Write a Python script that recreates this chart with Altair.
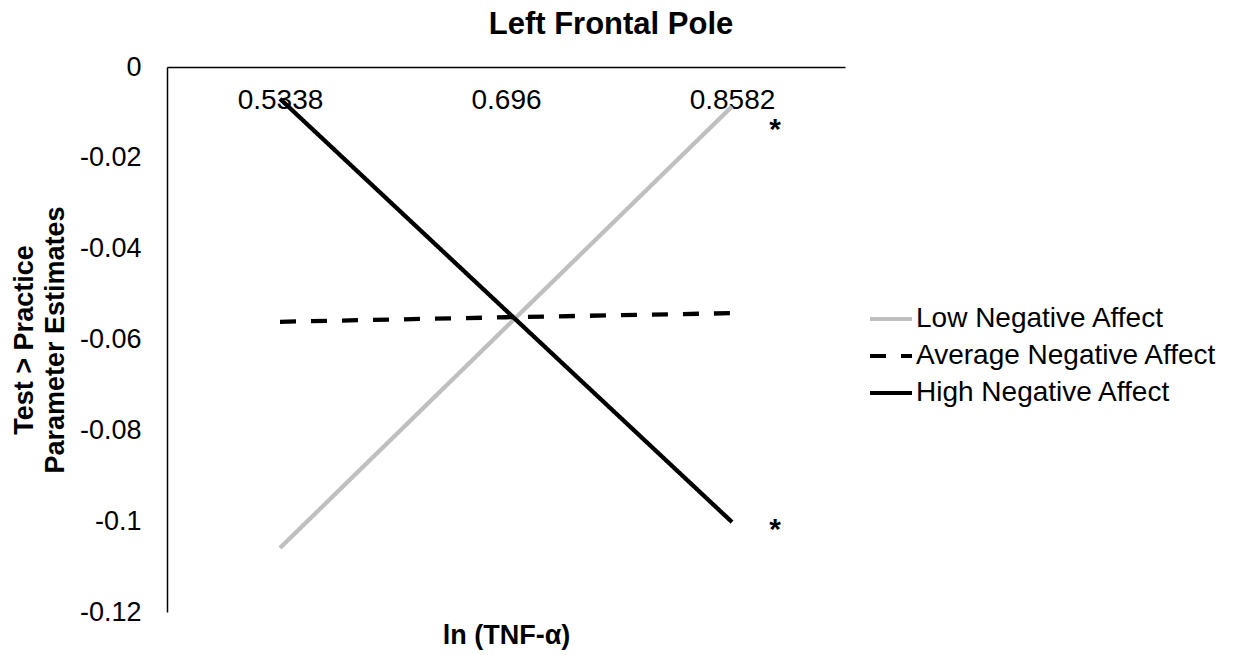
import altair as alt
import pandas as pd

# Category labels on the x axis: ln(TNF-alpha) at -1 SD, mean, +1 SD
tnf_levels = ["0.5338", "0.696", "0.8582"]

# Simple-slope estimates for each level of negative affect
series_names = ["Low Negative Affect", "Average Negative Affect", "High Negative Affect"]
low_na = [-0.1059, -0.0573, -0.0087]
avg_na = [-0.0561, -0.0551, -0.0542]
high_na = [-0.0070, -0.0536, -0.1002]

# Significance markers next to the slopes that differ from zero
star_level = ["0.8582", "0.8582"]
star_y = [-0.0128, -0.1008]
star_text = ["*", "*"]

y_ticks = [0, -0.02, -0.04, -0.06, -0.08, -0.1, -0.12]

FONT = "Liberation Sans"

rows = []
for name, vals in zip(series_names, [low_na, avg_na, high_na]):
    for lvl, v in zip(tnf_levels, vals):
        rows.append({"tnf": lvl, "estimate": v, "series": name})
lines_df = pd.DataFrame(rows)

stars_df = pd.DataFrame({"tnf": star_level, "estimate": star_y, "mark": star_text})

x_enc = alt.X(
    "tnf:O",
    sort=tnf_levels,
    scale=alt.Scale(type="point", padding=0.5),
    axis=alt.Axis(
        orient="bottom",
        offset=-545,
        labelAngle=0,
        labelFontSize=28,
        labelFont=FONT,
        labelColor="black",
        labelPadding=19,
        labelBaseline="top",
        ticks=False,
        tickSize=0,
        domainColor="black",
        domainWidth=1.5,
        title="ln (TNF-α)",
        titleFont=FONT,
        titleFontSize=27,
        titleFontWeight="bold",
        titleColor="black",
        titleY=576,
        titleBaseline="alphabetic",
        grid=False,
    ),
)

y_enc = alt.Y(
    "estimate:Q",
    scale=alt.Scale(domain=[-0.12, 0], nice=False, zero=False),
    axis=alt.Axis(
        values=y_ticks,
        labelExpr="replace(format(datum.value, '~g'), '\u2212', '-')",
        labelFontSize=27,
        labelFont=FONT,
        labelColor="black",
        labelPadding=26,
        ticks=False,
        tickSize=0,
        domainColor="black",
        domainWidth=1.5,
        grid=False,
        title=["Test > Practice", "Parameter Estimates"],
        titleFont=FONT,
        titleFontSize=27,
        titleFontWeight="bold",
        titleColor="black",
        titleLineHeight=31,
        titlePadding=10,
    ),
)

legend_cfg = dict(
    title=None,
    orient="none",
    legendX=701,
    legendY=229,
    symbolType="stroke",
    symbolSize=1764,
    symbolStrokeWidth=4,
    labelFontSize=28,
    labelFont=FONT,
    labelColor="black",
    labelOffset=2,
    labelLimit=500,
    rowPadding=-5,
)

lines = alt.Chart(lines_df).mark_line(strokeWidth=4.3).encode(
    x=x_enc,
    y=y_enc,
    color=alt.Color(
        "series:N",
        sort=series_names,
        scale=alt.Scale(domain=series_names, range=["#bfbfbf", "#000000", "#000000"]),
        legend=alt.Legend(**legend_cfg),
    ),
    strokeDash=alt.StrokeDash(
        "series:N",
        sort=series_names,
        scale=alt.Scale(domain=series_names, range=[[1, 0], [16, 15], [1, 0]]),
        legend=alt.Legend(**legend_cfg),
    ),
    detail="series:N",
)

stars = alt.Chart(stars_df).mark_text(
    fontSize=30, font=FONT, fontWeight="bold", color="black",
    dx=43, dy=14, baseline="alphabetic"
).encode(
    x=alt.X("tnf:O", sort=tnf_levels),
    y="estimate:Q",
    text="mark:N",
)

chart = (
    alt.layer(lines, stars)
    .properties(
        width=678,
        height=545,
        view=alt.ViewBackground(stroke="transparent", strokeWidth=0),
        title=alt.TitleParams(
            "Left Frontal Pole",
            font=FONT,
            fontSize=31,
            fontWeight="bold",
            color="black",
            anchor="middle",
            dx=105,
            offset=12,
        ),
        autosize=alt.AutoSizeParams(type="none"),
        padding={"left": 167, "top": 67, "right": 392, "bottom": 43},
    )
    .configure_view(strokeWidth=0, stroke="transparent")
    .configure(background="white")
)

chart.save("out.html", embed_options={"renderer": "svg", "actions": False})
